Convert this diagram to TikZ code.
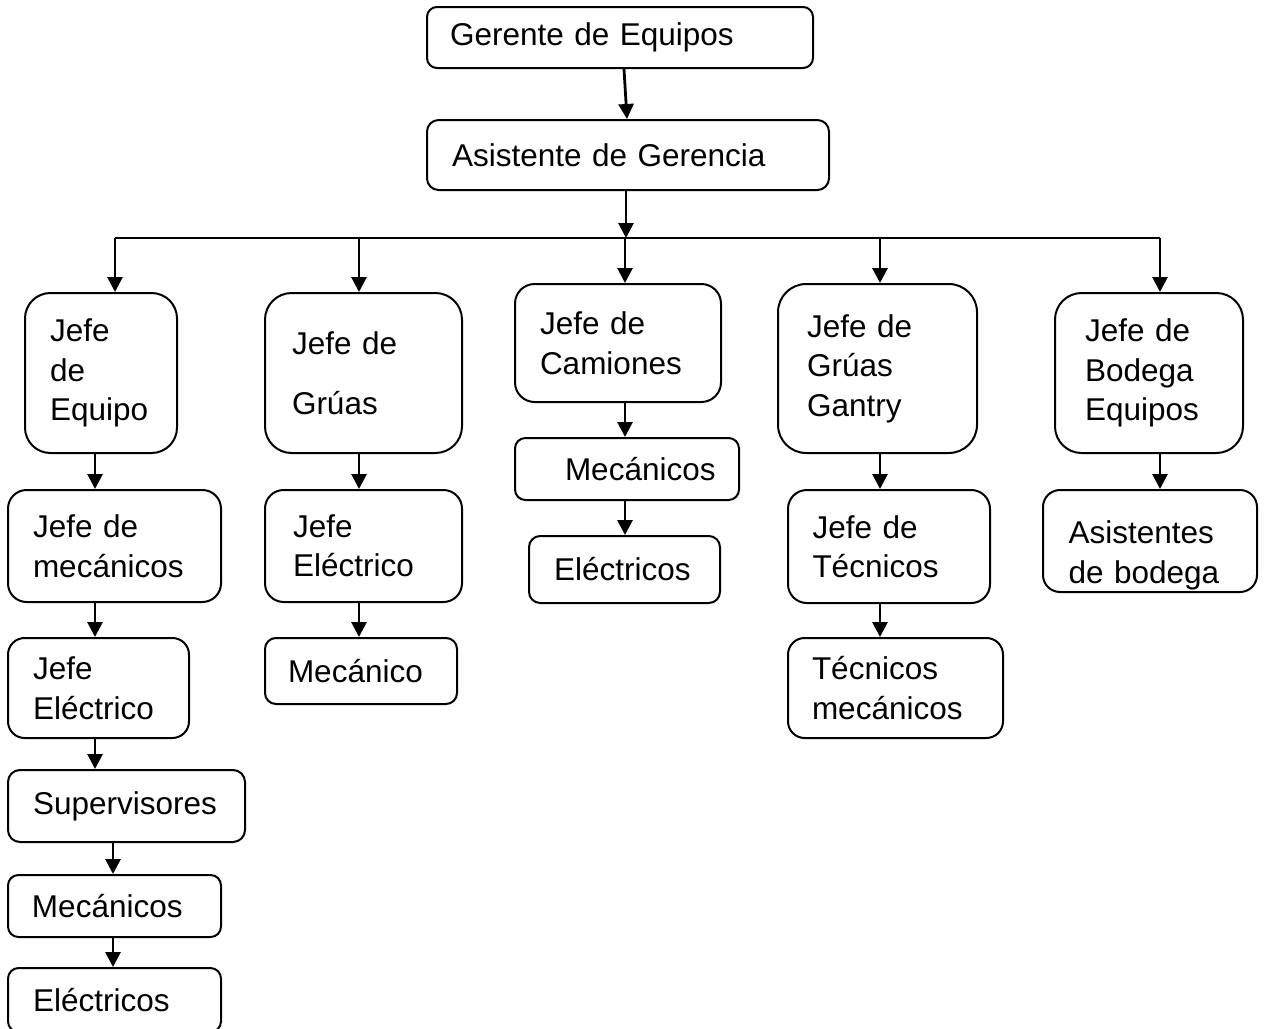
\documentclass[tikz,border=0pt]{standalone}
\usepackage{fontspec}
\setmainfont{Liberation Sans}
\usetikzlibrary{arrows.meta}

\begin{document}
\begin{tikzpicture}[x=0.5pt, y=-0.5pt, line width=1pt,
    every node/.style={font=\fontsize{15.75pt}{19.75pt}\selectfont},
    box/.style={draw, align=left, inner ysep=2pt},
    arr/.style={line width=1.4pt, -{Triangle[length=7.5pt,width=7.5pt]}}]

    \useasboundingbox (0,0) rectangle (1266,1029);

    % top of the chart
    \node[box, text width=170pt, inner xsep=11.5pt, minimum height=30.5pt, rounded corners=5pt] at (620, 37.5) (gerente) {Gerente de Equipos};
    \node[box, text width=176pt, inner xsep=12.5pt, minimum height=35pt, rounded corners=5.8pt] at (628, 155) (asistente) {Asistente de Gerencia};

    % first row
    \node[box, text width=51pt, inner xsep=12.5pt, minimum height=80pt, rounded corners=12.7pt] at (101, 373) (equipo) {Jefe\\de\\Equipo};
    \node[box, text width=71.5pt, inner xsep=13.5pt, minimum height=80pt, rounded corners=13.3pt] at (363.5, 373) (gruas) {Jefe de\\[10.25pt]Grúas};
    \node[box, text width=78pt, inner xsep=12.5pt, minimum height=59pt, rounded corners=9.8pt] at (618, 343) (camiones) {Jefe de\\Camiones};
    \node[box, text width=70.5pt, inner xsep=14.5pt, minimum height=84.5pt, rounded corners=14.1pt] at (877.5, 368.5) (gantry) {Jefe de\\Grúas\\Gantry};
    \node[box, text width=64pt, inner xsep=15pt, minimum height=80pt, rounded corners=13.3pt] at (1149, 373) (bodega) {Jefe de\\Bodega\\Equipos};

    % column of Jefe de Equipo
    \node[box, text width=81.5pt, inner xsep=12.5pt, minimum height=56pt, rounded corners=9.3pt] at (114.5, 546) (jefemec) {Jefe de\\mecánicos};
    \node[box, text width=65.5pt, inner xsep=12.5pt, minimum height=50pt, rounded corners=8.3pt] at (98.5, 688) (jefeelec) {Jefe\\Eléctrico};
    \node[box, text width=93.5pt, inner xsep=12.5pt, minimum height=36pt, rounded corners=6pt] at (126.5, 806) (superv) {Supervisores};
    \node[box, text width=82.5pt, inner xsep=12pt, minimum height=31pt, rounded corners=5.2pt] at (114.5, 906) (mecanicos) {Mecánicos};
    \node[box, text width=81.5pt, inner xsep=12.5pt, minimum height=32pt, rounded corners=5.3pt] at (114.5, 1000) (electricos) {Eléctricos};

    % column of Jefe de Gruas
    \node[box, text width=70.5pt, inner xsep=14pt, minimum height=56pt, rounded corners=9.3pt] at (363.5, 546) (gruaselec) {Jefe\\Eléctrico};
    \node[box, text width=73pt, inner xsep=11.5pt, minimum height=33pt, rounded corners=5.5pt] at (361, 671) (gruasmec) {Mecánico};

    % column of Jefe de Camiones
    \node[box, text width=62pt, inner xsep=25pt, minimum height=31pt, rounded corners=5.2pt] at (627, 469) (cammec) {Mecánicos};
    \node[box, text width=70.5pt, inner xsep=12.5pt, minimum height=33.5pt, rounded corners=5.6pt] at (624.5, 569.5) (camelec) {Eléctricos};

    % column of Gantry
    \node[box, text width=76.5pt, inner xsep=12.25pt, minimum height=56.5pt, rounded corners=9.4pt] at (889, 546.5) (jefetec) {Jefe de\\Técnicos};
    \node[box, text width=83.5pt, inner xsep=12pt, minimum height=50pt, rounded corners=8.3pt] at (895.5, 688) (tecmec) {Técnicos\\mecánicos};

    % column of Bodega
    \node[box, text width=81.5pt, inner xsep=12.75pt, inner ysep=0pt, minimum height=51pt, rounded corners=8.5pt] at (1150, 541) (asistbod) {\rule{0pt}{26pt}Asistentes\\de bodega};

    % connectors
    \coordinate (bus) at (626, 238);
    \path[arr] ([xshift=2pt]gerente.south) edge ([xshift=-0.5pt]asistente.north);
    \path[arr] ([xshift=-1pt]asistente.south) edge ([xshift=-1pt]asistente.south |- bus);
    \draw[line width=1.4pt] ([xshift=7pt]equipo.north |- bus) -- ([xshift=5.5pt]bodega.north |- bus);
    \foreach \n/\s in {equipo/7, gruas/-2.25, camiones/3.5, gantry/1.25, bodega/5.5}
        \path[arr] ([xshift=\s pt]\n.north |- bus) edge ([xshift=\s pt]\n.north);

    \path[arr] ([xshift=-3pt]equipo.south) edge ([xshift=-3pt]equipo.south |- jefemec.north);
    \path[arr] ([xshift=-9.75pt]jefemec.south) edge ([xshift=-9.75pt]jefemec.south |- jefeelec.north);
    \path[arr] ([xshift=-1.75pt]jefeelec.south) edge ([xshift=-1.75pt]jefeelec.south |- superv.north);
    \path[arr] ([xshift=-6.75pt]superv.south) edge ([xshift=-6.75pt]superv.south |- mecanicos.north);
    \path[arr] ([xshift=-0.75pt]mecanicos.south) edge ([xshift=-0.75pt]mecanicos.south |- electricos.north);

    \path[arr] ([xshift=-2.25pt]gruas.south) edge ([xshift=-2.25pt]gruas.south |- gruaselec.north);
    \path[arr] ([xshift=-2.25pt]gruaselec.south) edge ([xshift=-2.25pt]gruaselec.south |- gruasmec.north);

    \path[arr] ([xshift=3.5pt]camiones.south) edge ([xshift=3.5pt]camiones.south |- cammec.north);
    \path[arr] ([xshift=-1pt]cammec.south) edge ([xshift=-1pt]cammec.south |- camelec.north);

    \path[arr] ([xshift=1.25pt]gantry.south) edge ([xshift=1.25pt]gantry.south |- jefetec.north);
    \path[arr] ([xshift=-4.5pt]jefetec.south) edge ([xshift=-4.5pt]jefetec.south |- tecmec.north);

    \path[arr] ([xshift=5.5pt]bodega.south) edge ([xshift=5.5pt]bodega.south |- asistbod.north);
\end{tikzpicture}
\end{document}
